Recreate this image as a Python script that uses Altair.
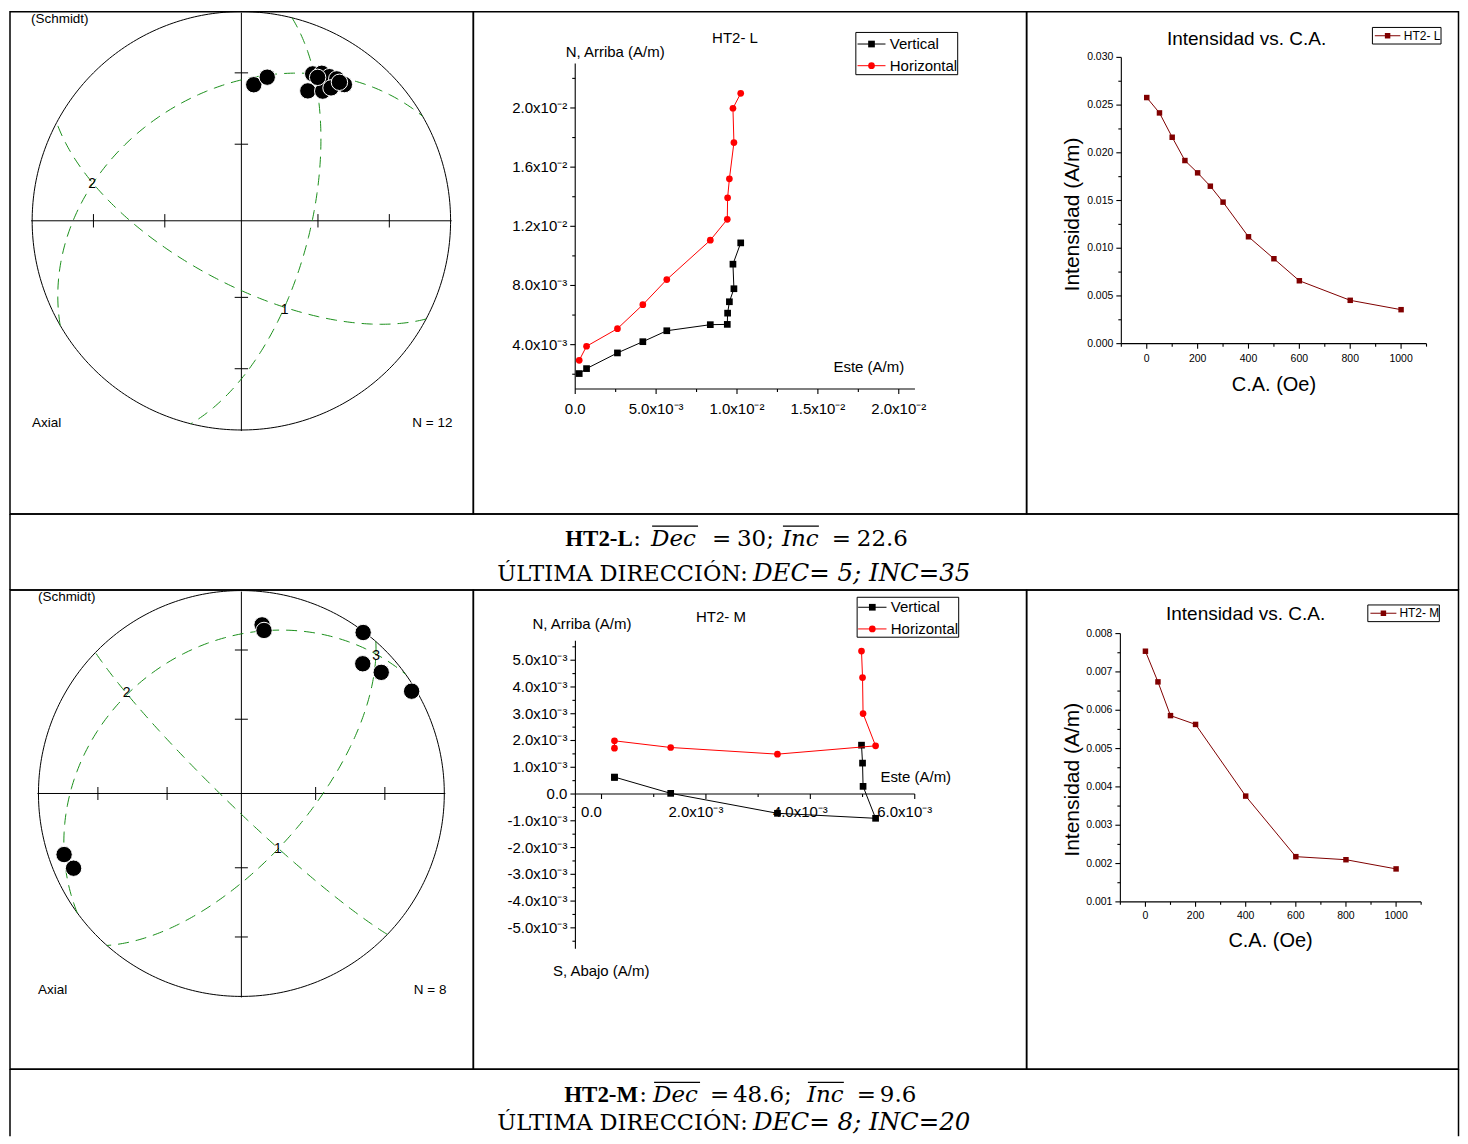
import math
import numpy as np
import pandas as pd
import altair as alt

# ===================== DATA =====================
# --- HT2-L : stereonet (Schmidt equal-area) : directions (deg) ---
L_dec = [5.2, 10.2, 25.9, 28.6, 31.4, 33.9, 37.1, 27.1, 32.1, 34.0, 28.0, 35.3]
L_inc = [35.0, 30.9, 23.0, 20.8, 20.4, 19.4, 19.5, 30.9, 27.7, 24.4, 23.4, 20.0]
L_plane_dipdir = [104.0, 330.0, 208.0]
L_plane_dip = [63.0, 37.0, 65.5]
L_cross_label = ["1", "2"]
L_cross_dec = [154.1, 284.0]
L_cross_inc = [51.0, 27.3]
L_N = "N =  12"

# --- HT2-M : stereonet ---
M_dec = [7.0, 7.9, 37.1, 43.1, 49.1, 59.0, 251.0, 246.0]
M_inc = [17.4, 20.0, 0.6, 13.5, 9.7, 2.4, 8.4, 10.4]
M_plane_dipdir = [224.0, 131.5, 324.0]
M_plane_dip = [84.0, 64.0, 27.0]
M_cross_label = ["1", "2", "3"]
M_cross_dec = [146.8, 311.2, 44.5]
M_cross_inc = [63.1, 25.8, 5.9]
M_N = "N =  8"

NET_TICK_INC = [30, 60]

# --- HT2-L : Zijderveld (A/m) ---
L_east = [0.247e-3, 0.70e-3, 2.61e-3, 4.18e-3, 5.66e-3, 8.35e-3, 9.40e-3, 9.42e-3, 9.53e-3, 9.81e-3, 9.75e-3, 10.23e-3]
L_up = [2.045e-3, 2.38e-3, 3.44e-3, 4.20e-3, 4.94e-3, 5.35e-3, 5.37e-3, 6.13e-3, 6.90e-3, 7.78e-3, 9.44e-3, 10.88e-3]
L_north = [2.94e-3, 3.89e-3, 5.08e-3, 6.70e-3, 8.40e-3, 11.06e-3, 12.47e-3, 13.93e-3, 15.21e-3, 17.66e-3, 19.98e-3, 20.99e-3]

# --- HT2-M : Zijderveld (A/m) ---
M_east = [0.248e-3, 0.248e-3, 1.325e-3, 3.37e-3, 5.25e-3, 5.01e-3, 5.00e-3, 4.98e-3]
M_up = [0.62e-3, 0.634e-3, 0.025e-3, -0.72e-3, -0.907e-3, 0.286e-3, 1.155e-3, 1.826e-3]
M_north = [1.714e-3, 1.988e-3, 1.739e-3, 1.49e-3, 1.80e-3, 3.006e-3, 4.35e-3, 5.34e-3]

# --- AF demagnetisation : intensity (A/m) vs C.A. (Oe) ---
L_af = [0, 50, 100, 150, 200, 250, 300, 400, 500, 600, 800, 1000]
L_int = [0.02579, 0.02418, 0.02163, 0.01919, 0.0179, 0.0165, 0.01483, 0.0112, 0.0089, 0.00659, 0.00454, 0.00356]
M_af = [0, 50, 100, 200, 400, 600, 800, 1000]
M_int = [0.00754, 0.00674, 0.00586, 0.00563, 0.00376, 0.00218, 0.0021, 0.00186]

# --- ticks / tick labels ---
LZ_xmajor = [0.0, 0.005, 0.010, 0.015, 0.020]
LZ_xminor = [0.0025, 0.0075, 0.0125, 0.0175]
LZ_xlabels = ["0.0", "5.0x10⁻³", "1.0x10⁻²", "1.5x10⁻²", "2.0x10⁻²"]
LZ_ymajor = [0.004, 0.008, 0.012, 0.016, 0.020]
LZ_yminor = [0.002, 0.006, 0.010, 0.014, 0.018, 0.022]
LZ_ylabels = ["4.0x10⁻³", "8.0x10⁻³", "1.2x10⁻²", "1.6x10⁻²", "2.0x10⁻²"]

MZ_xmajor = [0.0, 0.002, 0.004, 0.006]
MZ_xminor = [0.001, 0.003, 0.005]
MZ_xlabels = ["0.0", "2.0x10⁻³", "4.0x10⁻³", "6.0x10⁻³"]
MZ_ymajor = [-0.005, -0.004, -0.003, -0.002, -0.001, 0.0, 0.001, 0.002, 0.003, 0.004, 0.005]
MZ_yminor = [-0.0055, -0.0045, -0.0035, -0.0025, -0.0015, -0.0005, 0.0005, 0.0015, 0.0025, 0.0035, 0.0045, 0.0055]
MZ_ylabels = ["-5.0x10⁻³", "-4.0x10⁻³", "-3.0x10⁻³", "-2.0x10⁻³", "-1.0x10⁻³", "0.0",
              "1.0x10⁻³", "2.0x10⁻³", "3.0x10⁻³", "4.0x10⁻³", "5.0x10⁻³"]

AF_xmajor = [0, 200, 400, 600, 800, 1000]
AF_xminor = [-100, 100, 300, 500, 700, 900, 1100]
AF_xlabels = ["0", "200", "400", "600", "800", "1000"]
LI_ymajor = [0.0, 0.005, 0.010, 0.015, 0.020, 0.025, 0.030]
LI_yminor = [0.0025, 0.0075, 0.0125, 0.0175, 0.0225, 0.0275]
LI_ylabels = ["0.000", "0.005", "0.010", "0.015", "0.020", "0.025", "0.030"]
MI_ymajor = [0.001, 0.002, 0.003, 0.004, 0.005, 0.006, 0.007, 0.008]
MI_yminor = [0.0015, 0.0025, 0.0035, 0.0045, 0.0055, 0.0065, 0.0075]
MI_ylabels = ["0.001", "0.002", "0.003", "0.004", "0.005", "0.006", "0.007", "0.008"]

CAPTIONS = [
    dict(sample="HT2-L", dec_mean="30", inc_mean="22.6", dec_last="5", inc_last="35"),
    dict(sample="HT2-M", dec_mean="48.6", inc_mean="9.6", dec_last="8", inc_last="20"),
]

# ===================== HELPERS =====================
SANS = "Liberation Sans"
SERIF = "DejaVu Serif"
GREEN = "#1a8f1a"
MAROON = "#800000"
RED = "#ff0000"
one = pd.DataFrame({"k": [0]})


class Frame:
    """A table cell (page coords) whose plot area is the whole cell."""
    def __init__(self, left, top, right, bottom, xcal, ycal):
        self.left, self.top = left, top
        self.w, self.h = right - left, bottom - top
        (a, pa), (b, pb) = xcal
        self.kx = (pb - pa) / (b - a)
        self.xdom = [a + (left - pa) / self.kx, a + (right - pa) / self.kx]
        (c, pc), (d, pd_) = ycal
        self.ky = (pd_ - pc) / (d - c)
        self.ydom = [c + (bottom - pc) / self.ky, c + (top - pc) / self.ky]

    def x(self, f):
        return alt.X(f, type="quantitative", axis=None,
                     scale=alt.Scale(domain=self.xdom, nice=False, zero=False))

    def y(self, f):
        return alt.Y(f, type="quantitative", axis=None,
                     scale=alt.Scale(domain=self.ydom, nice=False, zero=False))

    def ux(self, px):
        return px / abs(self.kx)

    def uy(self, px):
        return px / abs(self.ky)

    def txt(self, px, py, s, size, align="center", font=SANS, weight="normal",
            style="normal", angle=None, color="black"):
        kw = dict(text=s, fontSize=size, font=font, align=align, baseline="middle",
                  fontWeight=weight, fontStyle=style, color=color)
        if angle is not None:
            kw["angle"] = angle
        return alt.Chart(one).mark_text(**kw).encode(
            x=alt.value(px - self.left), y=alt.value(py - self.top))

    def prule(self, x1, y1, x2, y2, color="black", width=1.0):
        return alt.Chart(one).mark_rule(color=color, strokeWidth=width).encode(
            x=alt.value(x1 - self.left), y=alt.value(y1 - self.top),
            x2=alt.value(x2 - self.left), y2=alt.value(y2 - self.top))

    def prect(self, x1, y1, x2, y2):
        return alt.Chart(one).mark_rect(fill="white", stroke="black", strokeWidth=1).encode(
            x=alt.value(x1 - self.left), y=alt.value(y1 - self.top),
            x2=alt.value(x2 - self.left), y2=alt.value(y2 - self.top))

    def ppoint(self, px, py, shape, color, size):
        return alt.Chart(one).mark_point(shape=shape, filled=True, size=size, color=color,
                                         opacity=1).encode(
            x=alt.value(px - self.left), y=alt.value(py - self.top))


def axes(fr, x_at, x_from, x_to, y_at, y_from, y_to, xmaj, xmin, xlab, ymaj, ymin, ylab,
         fsize, xdy, xdx=0, ydx=-8, tmaj=5, tmin=3):
    rows = [dict(x1=x_from, x2=x_to, y1=x_at, y2=x_at),
            dict(x1=y_at, x2=y_at, y1=y_from, y2=y_to)]
    for v in xmaj:
        rows.append(dict(x1=v, x2=v, y1=x_at, y2=x_at - fr.uy(tmaj)))
    for v in xmin:
        rows.append(dict(x1=v, x2=v, y1=x_at, y2=x_at - fr.uy(tmin)))
    for v in ymaj:
        rows.append(dict(x1=y_at - fr.ux(tmaj), x2=y_at, y1=v, y2=v))
    for v in ymin:
        rows.append(dict(x1=y_at - fr.ux(tmin), x2=y_at, y1=v, y2=v))
    rules = alt.Chart(pd.DataFrame(rows)).mark_rule(color="black", strokeWidth=1.1).encode(
        x=fr.x("x1"), x2="x2", y=fr.y("y1"), y2="y2")
    xl = alt.Chart(pd.DataFrame({"v": xmaj, "t": xlab, "a": [x_at] * len(xmaj)})).mark_text(
        font=SANS, fontSize=fsize, dy=xdy, dx=xdx, align="center", baseline="middle",
        color="black").encode(x=fr.x("v"), y=fr.y("a"), text="t:N")
    yl = alt.Chart(pd.DataFrame({"v": ymaj, "t": ylab, "a": [y_at] * len(ymaj)})).mark_text(
        font=SANS, fontSize=fsize, dx=ydx, align="right", baseline="middle",
        color="black").encode(x=fr.x("a"), y=fr.y("v"), text="t:N")
    return [rules, xl, yl]


def series(fr, xs, ys, color, shape, size):
    df = pd.DataFrame({"x": xs, "y": ys, "i": list(range(len(xs)))})
    line = alt.Chart(df).mark_line(color=color, strokeWidth=1).encode(
        x=fr.x("x"), y=fr.y("y"), order="i:Q")
    pts = alt.Chart(df).mark_point(shape=shape, filled=True, size=size, color=color,
                                   opacity=1).encode(x=fr.x("x"), y=fr.y("y"))
    return [line, pts]


def project(dec, inc):
    d, i = math.radians(dec), math.radians(inc)
    e, n, dn = math.cos(i) * math.sin(d), math.cos(i) * math.cos(d), abs(math.sin(i))
    f = 1.0 / math.sqrt(1.0 + dn)
    return e * f, n * f


def great_circle(dipdir, dip, n=181):
    phi, delta = math.radians(dipdir), math.radians(dip)
    s = (math.sin(phi - math.pi / 2), math.cos(phi - math.pi / 2), 0.0)
    dv = (math.sin(phi) * math.cos(delta), math.cos(phi) * math.cos(delta), math.sin(delta))
    xs, ys = [], []
    for t in np.linspace(0, math.pi, n):
        e = math.cos(t) * s[0] + math.sin(t) * dv[0]
        nn = math.cos(t) * s[1] + math.sin(t) * dv[1]
        dn = math.sin(t) * dv[2]
        f = 1.0 / math.sqrt(1.0 + dn)
        xs.append(e * f)
        ys.append(nn * f)
    return xs, ys


def stereonet(cell, cx, cy, R, dec, inc, pdd, pdip, clab, cdec, cinc, ntext, tpos):
    left, top, right, bottom = cell
    fr = Frame(left, top, right, bottom, [(0, cx), (1, cx + R)], [(0, cy), (1, cy - R)])
    th = np.linspace(0, 2 * math.pi, 361)
    prim = pd.DataFrame({"x": np.cos(th), "y": np.sin(th), "i": range(361)})
    L = [alt.Chart(prim).mark_line(color="black", strokeWidth=1).encode(
        x=fr.x("x"), y=fr.y("y"), order="i:Q")]
    tk = [math.sqrt(1 - math.sin(math.radians(a))) for a in NET_TICK_INC]
    tk = sorted([-v for v in tk] + tk)
    h = 0.032
    rows = [dict(x1=-1.005, x2=1.005, y1=0, y2=0), dict(x1=0, x2=0, y1=-1.005, y2=0.995)]
    for v in tk:
        rows.append(dict(x1=v, x2=v, y1=-h, y2=h))
        rows.append(dict(x1=-h, x2=h, y1=v, y2=v))
    L.append(alt.Chart(pd.DataFrame(rows)).mark_rule(color="black", strokeWidth=1).encode(
        x=fr.x("x1"), x2="x2", y=fr.y("y1"), y2="y2"))
    gcs = []
    for k, (a, b) in enumerate(zip(pdd, pdip)):
        xs, ys = great_circle(a, b)
        for j, (xx, yy) in enumerate(zip(xs, ys)):
            gcs.append(dict(g=k, i=j, x=xx, y=yy))
    L.append(alt.Chart(pd.DataFrame(gcs)).mark_line(color=GREEN, strokeWidth=1,
                                                    strokeDash=[11, 7]).encode(
        x=fr.x("x"), y=fr.y("y"), detail="g:N", order="i:Q"))
    lab = pd.DataFrame({"t": clab, "x": [project(a, b)[0] for a, b in zip(cdec, cinc)],
                        "y": [project(a, b)[1] for a, b in zip(cdec, cinc)]})
    L.append(alt.Chart(lab).mark_text(font=SANS, fontSize=14, color="black").encode(
        x=fr.x("x"), y=fr.y("y"), text="t:N"))
    pts = pd.DataFrame({"x": [project(a, b)[0] for a, b in zip(dec, inc)],
                        "y": [project(a, b)[1] for a, b in zip(dec, inc)]})
    L.append(alt.Chart(pts).mark_circle(size=270, fill="black", stroke="white",
                                        strokeWidth=1, opacity=1).encode(
        x=fr.x("x"), y=fr.y("y")))
    (sx, sy), (ax, ay), (nx, ny) = tpos
    L.append(fr.txt(sx, sy, "(Schmidt)", 13.5, align="left"))
    L.append(fr.txt(ax, ay, "Axial", 13.5, align="left"))
    L.append(fr.txt(nx, ny, ntext, 13.5, align="right"))
    return alt.layer(*L).properties(width=fr.w, height=fr.h)


def zij_legend(fr, bx1, by1, bx2, by2, y1, y2, lx1, lx2, tx):
    mx = (lx1 + lx2) / 2
    return [fr.prect(bx1, by1, bx2, by2),
            fr.prule(lx1, y1, lx2, y1, "black"), fr.ppoint(mx, y1, "square", "black", 45),
            fr.txt(tx, y1, "Vertical", 15, align="left"),
            fr.prule(lx1, y2, lx2, y2, RED), fr.ppoint(mx, y2, "circle", RED, 45),
            fr.txt(tx, y2, "Horizontal", 15, align="left")]


def int_legend(fr, bx1, by1, bx2, by2, y, lx1, lx2, tx, label):
    mx = (lx1 + lx2) / 2
    return [fr.prect(bx1, by1, bx2, by2), fr.prule(lx1, y, lx2, y, MAROON),
            fr.ppoint(mx, y, "square", MAROON, 30), fr.txt(tx, y, label, 12, align="left")]


NOSTROKE = alt.ViewBackground(stroke="transparent")


def caption_cells(top, bottom, cap, pos, y1, y2, oy, bottom_line=True):
    """three cells: left border | text | right border"""
    fa = Frame(C1[0], top, C1[1], bottom, [(0, 0), (1, 1)], [(0, 0), (1, -1)])
    fb = Frame(C2[0], top, C2[1], bottom, [(0, 0), (1, 1)], [(0, 0), (1, -1)])
    fc = Frame(C3[0], top, C3[1], bottom, [(0, 0), (1, 1)], [(0, 0), (1, -1)])
    la = [fa.prule(C1[0], top, C1[0], bottom, width=1.5),
          fa.prule(C1[0], top, C1[1], top, width=1.5)]
    lc = [fc.prule(C3[1], top, C3[1], bottom, width=1.5),
          fc.prule(C3[0], top, C3[1], top, width=1.5)]
    p = pos
    lb = [fb.prule(C2[0], top, C2[1], top, width=1.5),
          fb.txt(p[0], y1, cap["sample"], 23, align="left", font="Liberation Serif", weight="bold"),
          fb.txt(p[1], y1, ":", 23, align="left", font=SERIF),
          fb.txt(p[2], y1, "Dec", 23, align="left", font=SERIF, style="italic"),
          fb.txt(p[3], y1, "=", 23, align="left", font=SERIF),
          fb.txt(p[4], y1, cap["dec_mean"] + ";", 23, align="left", font=SERIF),
          fb.txt(p[5], y1, "Inc", 23, align="left", font=SERIF, style="italic"),
          fb.txt(p[6], y1, "=", 23, align="left", font=SERIF),
          fb.txt(p[7], y1, cap["inc_mean"], 23, align="left", font=SERIF),
          fb.prule(p[2] + 1, oy, p[2] + 47, oy, width=1.2),
          fb.prule(p[5] + 1, oy, p[5] + 37, oy, width=1.2),
          fb.txt(497, y2, "ÚLTIMA DIRECCIÓN:", 22.5, align="left", font=SERIF),
          fb.txt(753, y2, "DEC= %s; INC=%s" % (cap["dec_last"], cap["inc_last"]), 24.5,
                 align="left", font=SERIF, style="italic")]
    if bottom_line:
        la.append(fa.prule(C1[0], bottom, C1[1], bottom, width=1.5))
        lb.append(fb.prule(C2[0], bottom, C2[1], bottom, width=1.5))
        lc.append(fc.prule(C3[0], bottom, C3[1], bottom, width=1.5))
    ca = alt.layer(*la).properties(width=fa.w, height=fa.h, view=NOSTROKE)
    cb = alt.layer(*lb).properties(width=fb.w, height=fb.h, view=NOSTROKE)
    cc = alt.layer(*lc).properties(width=fc.w, height=fc.h, view=NOSTROKE)
    return [ca, cb, cc]


# ===================== PANELS =====================
# page layout (the whole svg must stay within the 1452 px wide page body)
C1, C2, C3 = (9, 473), (473, 1027), (1027, 1459.5)
R1, RC1, R2, RC2 = (9, 512), (512, 588), (588, 1068), (1068, 1135)

# --- stereonets ---
p1 = stereonet((C1[0], R1[0], C1[1], R1[1]), 240.7, 218.3, 209.5, L_dec, L_inc,
               L_plane_dipdir, L_plane_dip, L_cross_label, L_cross_dec, L_cross_inc, L_N,
               [(30, 16), (31, 421), (452, 421)])
p4 = stereonet((C1[0], R2[0], C1[1], R2[1]), 240.7, 791.8, 203.2, M_dec, M_inc,
               M_plane_dipdir, M_plane_dip, M_cross_label, M_cross_dec, M_cross_inc, M_N,
               [(37, 595), (37, 989), (446, 989)])

# --- HT2-L Zijderveld ---
f2 = Frame(C2[0], R1[0], C2[1], R1[1], [(0, 575.0), (0.02, 899.0)], [(0.02, 105.33), (0.004, 342.33)])
L2 = axes(f2, 0.001, 0.0, 0.021, 0.0, 0.001, 0.023, LZ_xmajor, LZ_xminor, LZ_xlabels,
          LZ_ymajor, LZ_yminor, LZ_ylabels, 15, xdy=20)
L2 += series(f2, L_east, L_up, "black", "square", 45)
L2 += series(f2, L_east, L_north, RED, "circle", 45)
L2 += [f2.txt(735, 35, "HT2- L", 15), f2.txt(615, 49, "N, Arriba (A/m)", 15),
       f2.txt(869, 365, "Este (A/m)", 15)]
L2 += zij_legend(f2, 856, 29.7, 958, 72, 41.3, 63, 857.7, 885.7, 890)
p2 = alt.layer(*L2).properties(width=f2.w, height=f2.h)

# --- HT2-L intensity ---
f3 = Frame(C3[0], R1[0], C3[1], R1[1], [(0, 1147.33), (1000, 1402.0)], [(0.03, 54.67), (0.0, 341.33)])
L3 = axes(f3, 0.0, -100, 1100, -100, 0.0, 0.030, AF_xmajor, AF_xminor, AF_xlabels,
          LI_ymajor, LI_yminor, LI_ylabels, 10.5, xdy=15)
L3 += series(f3, L_af, L_int, MAROON, "square", 30)
L3 += [f3.txt(1247.3, 36.3, "Intensidad vs. C.A.", 19),
       f3.txt(1073, 212, "Intensidad (A/m)", 21, angle=270),
       f3.txt(1274.7, 383, "C.A. (Oe)", 20)]
L3 += int_legend(f3, 1373.3, 24.7, 1442, 41.3, 33, 1375.7, 1401.3, 1404.7, "HT2- L")
p3 = alt.layer(*L3).properties(width=f3.w, height=f3.h)

# --- HT2-M Zijderveld ---
f5 = Frame(C2[0], R2[0], C2[1], R2[1], [(0, 601.33), (0.006, 915.0)], [(0.005, 658.33), (0.0, 792.33)])
L5 = axes(f5, 0.0, -0.0005, 0.006, -0.0005, -0.00578, 0.00573, MZ_xmajor, MZ_xminor, MZ_xlabels,
          MZ_ymajor, MZ_yminor, MZ_ylabels, 15, xdy=18, xdx=-10)
L5 += series(f5, M_east, M_up, "black", "square", 45)
L5 += series(f5, M_east, M_north, RED, "circle", 45)
L5 += [f5.txt(721, 614.7, "HT2- M", 15), f5.txt(581.7, 622.3, "N, Arriba (A/m)", 15),
       f5.txt(601, 969.7, "S, Abajo (A/m)", 15), f5.txt(916, 775.7, "Este (A/m)", 15)]
L5 += zij_legend(f5, 857.3, 595.3, 959, 635.3, 605.3, 627, 858.3, 886.7, 891)
p5 = alt.layer(*L5).properties(width=f5.w, height=f5.h)

# --- HT2-M intensity ---
f6 = Frame(C3[0], R2[0], C3[1], R2[1], [(0, 1146.0), (1000, 1397.0)], [(0.008, 631.67), (0.001, 900.33)])
L6 = axes(f6, 0.001, -100, 1100, -100, 0.001, 0.008, AF_xmajor, AF_xminor, AF_xlabels,
          MI_ymajor, MI_yminor, MI_ylabels, 10.5, xdy=14)
L6 += series(f6, M_af, M_int, MAROON, "square", 30)
L6 += [f6.txt(1246.3, 612, "Intensidad vs. C.A.", 19),
       f6.txt(1073, 778, "Intensidad (A/m)", 21, angle=270),
       f6.txt(1271.3, 939.7, "C.A. (Oe)", 20)]
L6 += int_legend(f6, 1368.7, 603, 1440.3, 619.7, 611.3, 1371.3, 1397.3, 1400.3, "HT2- M")
p6 = alt.layer(*L6).properties(width=f6.w, height=f6.h)

# --- captions ---
cap1 = caption_cells(RC1[0], RC1[1], CAPTIONS[0], [565, 633, 651, 712, 737, 782, 832, 857], 537, 572, 524)
cap2 = caption_cells(RC2[0], RC2[1], CAPTIONS[1], [564, 639, 653, 710, 733, 807, 857, 880], 1094, 1122, 1081,
                     bottom_line=False)

chart = alt.concat(p1, p2, p3, *cap1, p4, p5, p6, *cap2, columns=3, spacing=0,
                   bounds="flush", align="each").properties(
    padding=0, background="white"
).configure_view(stroke="black", strokeWidth=1.5)

chart.save("out.html", embed_options={"renderer": "svg", "actions": False})
